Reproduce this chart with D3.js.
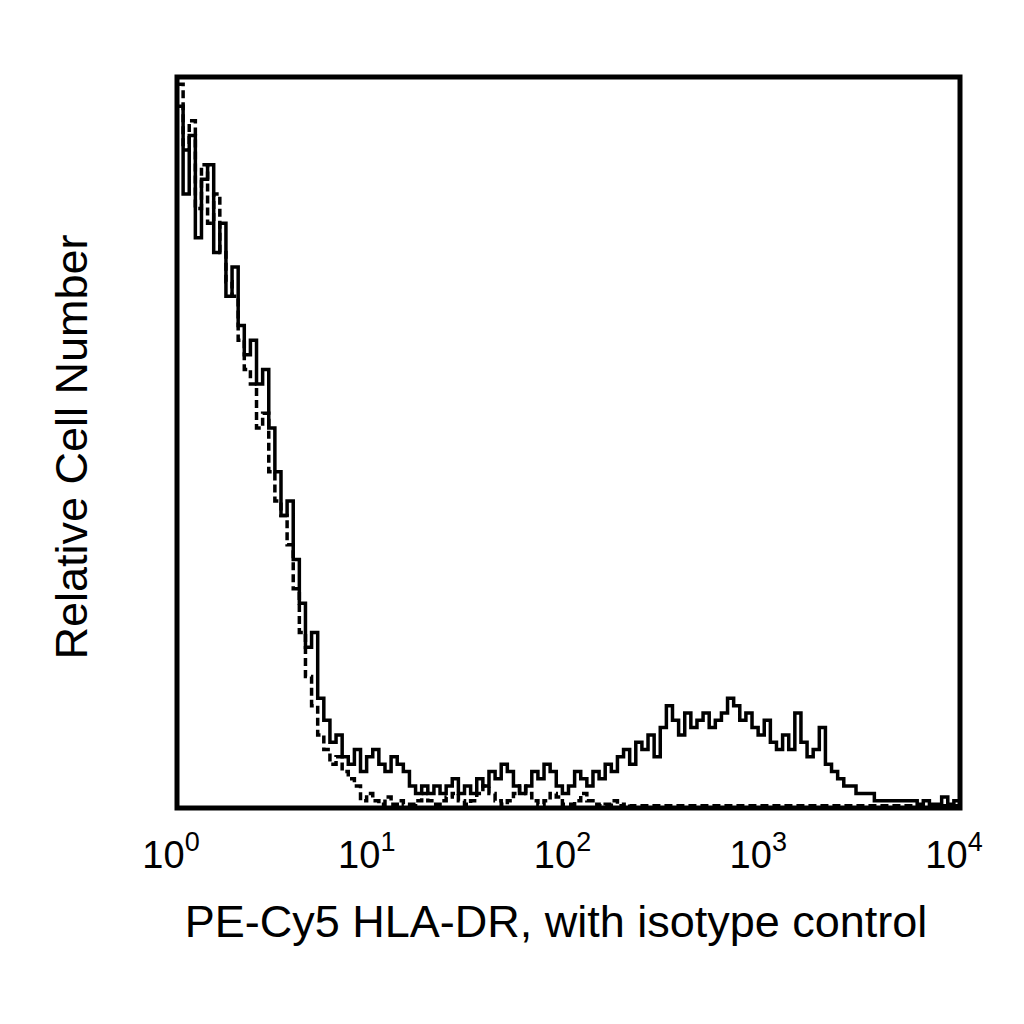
<!DOCTYPE html>
<html>
<head>
<meta charset="utf-8">
<script src="https://cdn.jsdelivr.net/npm/d3@7"></script>
<style>
  body { margin: 0; background: #fff; }
  text { font-family: "Liberation Sans", Arial, sans-serif; fill: #000; }
</style>
</head>
<body>
<svg id="chart" width="1024" height="1024"></svg>
<script>
// 128 bins, 1/32 decade each, from 10^0 to 10^4
const decades = [0, 1, 2, 3, 4];
const hlaDR = [
  96, 84, 92, 78, 86, 88, 76, 80, 70, 74, 66, 62, 64, 58, 60, 52,
  46, 40, 42, 34, 28, 22, 24, 15, 12, 9, 10, 7, 6, 8, 5, 7,
  8, 6, 5, 7, 6, 5, 3, 2, 3, 2, 3, 2, 3, 4, 2, 3,
  2, 4, 3, 5, 4, 6, 5, 3, 2, 3, 5, 4, 6, 5, 3, 2,
  3, 5, 4, 3, 5, 4, 6, 5, 7, 8, 6, 9, 8, 10, 7, 11,
  14, 12, 10, 13, 11, 12, 13, 11, 12, 13, 15, 14, 12, 13, 11, 10,
  12, 9, 8, 10, 8, 13, 9, 7, 8, 11, 6, 5, 4, 3, 3, 2,
  2, 2, 1, 1, 1, 1, 1, 1, 1, 0.5, 1, 0.5, 0.5, 1.5, 0.5, 1
];
const isotype = [
  99, 90, 94, 82, 88, 80, 84, 76, 72, 70, 64, 60, 58, 52, 54, 46,
  42, 40, 36, 30, 24, 18, 14, 10, 8, 6, 7, 5, 4, 3, 1, 2,
  1, 0.5, 1.5, 0.5, 1, 0.5, 0.5, 1, 2, 1, 0.5, 1, 1.5, 2, 1, 0.5,
  1, 2, 3, 2, 1, 0.5, 1, 2, 3, 2, 1, 0.5, 1, 2, 1.5, 0.5,
  0.5, 1, 2, 1, 0.5, 0.3, 0.5, 1, 0.3, 0.5, 0.3, 0.3, 0.3, 0.3, 0.3, 0.3,
  0.3, 0.3, 0.3, 0.3, 0.3, 0.3, 0.3, 0.3, 0.3, 0.3, 0.3, 0.3, 0.3, 0.3, 0.3, 0.3,
  0.3, 0.3, 0.3, 0.3, 0.3, 0.3, 0.3, 0.3, 0.3, 0.3, 0.3, 0.3, 0.3, 0.3, 0.3, 0.3,
  0.3, 0.3, 0.3, 0.3, 0.3, 0.3, 0.3, 0.3, 0.3, 0.3, 0.3, 0.3, 0.3, 0.3, 0.3, 0.3
];

const svg = d3.select("#chart");
const plotL = 177, plotR = 960, plotT = 77, plotB = 808;

const x = d3.scaleLog().domain([1, 1e4]).range([plotL, plotR]);
const y = d3.scaleLinear().domain([0, 100]).range([plotB, plotT]);

function stepPoints(vals) {
  const pts = [];
  vals.forEach((v, i) => {
    const x0 = Math.pow(10, i / 32), x1 = Math.pow(10, (i + 1) / 32);
    pts.push([x(x0), y(v)], [x(x1), y(v)]);
  });
  return pts;
}
const line = d3.line();

svg.append("path").attr("d", line(stepPoints(isotype)))
  .attr("fill", "none").attr("stroke", "#000").attr("stroke-width", 3.5)
  .attr("stroke-dasharray", "8,4");
svg.append("path").attr("d", line(stepPoints(hlaDR)))
  .attr("fill", "none").attr("stroke", "#000").attr("stroke-width", 3.5);

svg.append("rect").attr("x", plotL).attr("y", plotT)
  .attr("width", plotR - plotL).attr("height", plotB - plotT)
  .attr("fill", "none").attr("stroke", "#000").attr("stroke-width", 5);

const tl = svg.append("g");
decades.forEach(d => {
  const t = tl.append("text").attr("x", x(Math.pow(10, d)) - 6).attr("y", 868)
    .attr("text-anchor", "middle").attr("font-size", 38);
  t.append("tspan").text("10");
  t.append("tspan").attr("dy", -17).attr("font-size", 27).text(d);
});

svg.append("text").attr("x", 556).attr("y", 937).attr("text-anchor", "middle")
  .attr("font-size", 45).text("PE-Cy5 HLA-DR, with isotype control");
svg.append("text").attr("transform", "translate(87,447) rotate(-90)")
  .attr("text-anchor", "middle").attr("font-size", 45).text("Relative Cell Number");
</script>
</body>
</html>
